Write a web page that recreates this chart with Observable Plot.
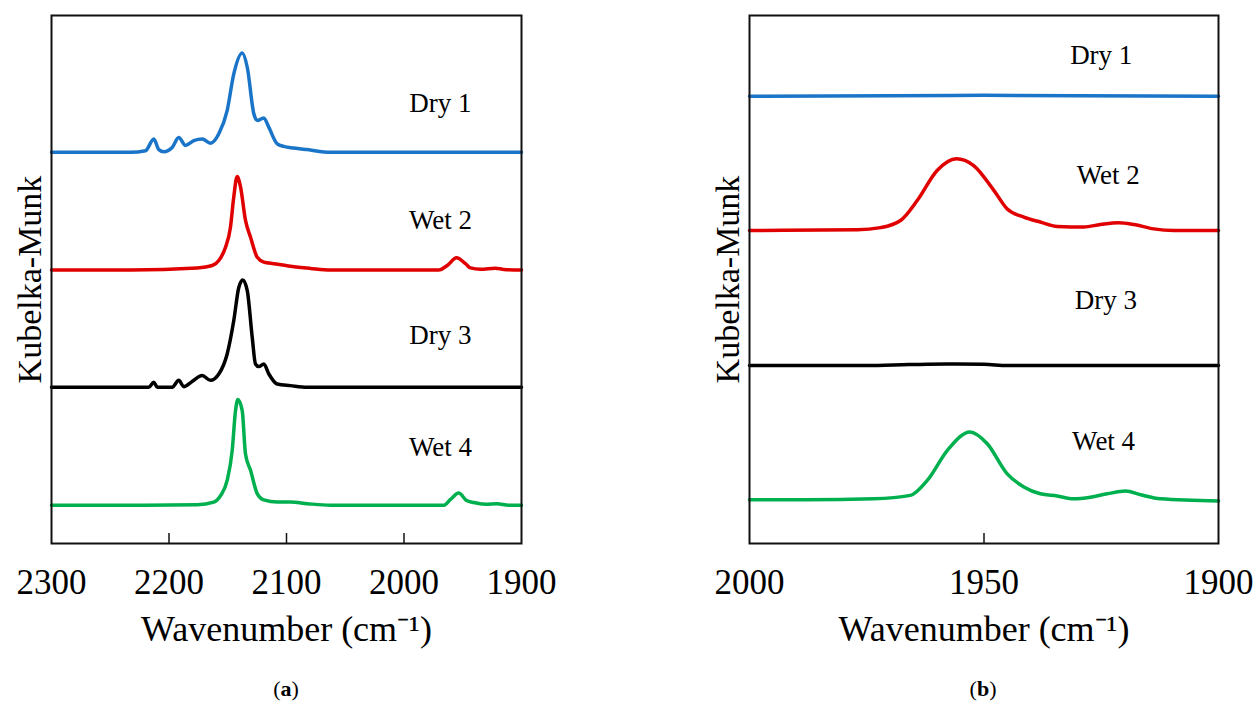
<!DOCTYPE html>
<html><head><meta charset="utf-8">
<script src="https://cdn.jsdelivr.net/npm/d3@7"></script>
<script src="https://cdn.jsdelivr.net/npm/@observablehq/plot@0.6"></script>
<style>
body{margin:0;background:#fff;}
#wrap{position:relative;width:1256px;height:705px;overflow:hidden;font-family:"Liberation Serif",serif;background:#fff;}
.panel{position:absolute;top:0;}
.cap{position:absolute;top:676px;font-size:22px;width:60px;text-align:center;color:#000;}
</style></head><body>
<div id="wrap">
<div id="pa" class="panel" style="left:0"></div>
<div id="pb" class="panel" style="left:698px"></div>
<div class="cap" style="left:256px">(<b>a</b>)</div>
<div class="cap" style="left:953px">(<b>b</b>)</div>
</div>
<script>
// series names and colours
const names = ["Dry 1", "Wet 2", "Dry 3", "Wet 4"];
const colors = ["#1a75c9", "#e00000", "#000000", "#00b04f"];

// Panel (a): wavenumber (cm-1) and Kubelka-Munk intensity above each baseline
const dry1A_w = [2300, 2232.8, 2220, 2212.9, 2208.7, 2204.4, 2197.3, 2191.7, 2186, 2178.9, 2171.7, 2164.7, 2157.6, 2150.5, 2144.9, 2137.7, 2133.4, 2127.8, 2124.9, 2119.3, 2115, 2107.9, 2102.3, 2093.8, 2082.4, 2062.6, 1900];
const dry1A_v = [0, 0, 0.03, 0.25, 0.05, 0.01, 0.09, 0.28, 0.13, 0.22, 0.25, 0.17, 0.35, 0.79, 1.48, 1.88, 1.61, 0.73, 0.60, 0.65, 0.47, 0.16, 0.11, 0.08, 0.05, 0, 0];
const wet2A_w = [2300, 2232.8, 2176, 2163.2, 2157.6, 2151.9, 2147.7, 2144.9, 2142, 2139.1, 2134.9, 2130.6, 2124.9, 2119.3, 2110.8, 2096.6, 2079.6, 2062.6, 1970.4, 1963.2, 1955.3, 1947.7, 1943.4, 1934.9, 1922.1, 1915, 1900];
const wet2A_v = [0, 0, 0.04, 0.085, 0.18, 0.43, 0.81, 1.38, 1.77, 1.57, 0.94, 0.62, 0.24, 0.15, 0.12, 0.07, 0.03, 0, 0, 0.085, 0.23, 0.12, 0.04, 0.015, 0.035, 0.01, 0];
const dry3A_w = [2300, 2217.2, 2212.9, 2210, 2197.3, 2191.7, 2187.4, 2180.3, 2171.7, 2164.7, 2157.6, 2150.5, 2144.9, 2140.6, 2137.2, 2133.4, 2129.2, 2126.4, 2123.6, 2119.3, 2115, 2107.9, 2096.6, 2082.4, 1900];
const dry3A_v = [0, 0, 0.095, 0, 0, 0.13, 0.01, 0.11, 0.22, 0.13, 0.25, 0.63, 1.26, 1.89, 2.03, 1.83, 0.95, 0.44, 0.39, 0.44, 0.25, 0.06, 0.03, 0, 0];
const wet4A_w = [2300, 2232.8, 2176, 2161.9, 2156.2, 2150.5, 2146.2, 2143.4, 2141.4, 2137.7, 2134.9, 2130.6, 2124.9, 2119.3, 2107.9, 2096.6, 2082.4, 2062.6, 1966.1, 1960.4, 1953.4, 1946.8, 1940.6, 1930.6, 1920.7, 1911, 1900];
const wet4A_v = [0, 0, 0.01, 0.06, 0.18, 0.47, 1.04, 1.79, 2.0, 1.79, 0.97, 0.66, 0.22, 0.10, 0.06, 0.06, 0.03, 0, 0, 0.11, 0.23, 0.09, 0.05, 0.02, 0.03, 0, 0];
const offsetsA = [7.41, 5.18, 2.96, 0.725];
const labelA_w = [1969, 1969, 1969, 1969];
const labelA_y = [8.33, 6.12, 3.94, 1.82];
const ticksA = [2300, 2200, 2100, 2000, 1900];
const innerTicksA = [2200, 2100, 2000];

// Panel (b)
const dry1B_w = [2000, 1970, 1950, 1930, 1900];
const dry1B_v = [0, 0.002, 0.003, 0.002, 0];
const wet2B_w = [2000, 1977, 1972.1, 1967.8, 1964.2, 1960, 1955.9, 1952.2, 1947.9, 1945.1, 1941.5, 1938, 1934.4, 1928.7, 1925.2, 1921.3, 1918, 1913.8, 1909.5, 1900];
const wet2B_v = [0, 0.002, 0.009, 0.032, 0.097, 0.193, 0.231, 0.209, 0.129, 0.07, 0.043, 0.027, 0.013, 0.011, 0.019, 0.025, 0.019, 0.005, 0, 0];
const dry3B_w = [2000, 1975, 1966, 1958, 1950, 1945, 1900];
const dry3B_v = [0, 0, 0.003, 0.005, 0.004, 0, 0];
const wet4B_w = [2000, 1987.7, 1973.5, 1965.7, 1962.1, 1957.8, 1953, 1949.3, 1945.1, 1941.5, 1938, 1934.4, 1930.9, 1927.3, 1923.7, 1919.8, 1916.6, 1912.4, 1900];
const wet4B_v = [0, 0, 0.003, 0.014, 0.062, 0.159, 0.218, 0.18, 0.084, 0.041, 0.019, 0.012, 0.003, 0.008, 0.019, 0.028, 0.016, 0.003, -0.004];
const offsetsB = [1.44, 1.008, 0.573, 0.141];
const labelB_w = [1925, 1923.5, 1924, 1924.5];
const labelB_y = [1.571, 1.185, 0.782, 0.328];
const ticksB = [2000, 1950, 1900];
const innerTicksB = [1950];

function panel({series, offsets, xDomain, yDomain, ticks, innerTicks, labelW, labelY, width, marginRight}) {
  const rows = [];
  series.forEach(([ws, vs], i) => ws.forEach((w, j) => rows.push({series: names[i], w, v: vs[j] + offsets[i]})));
  const labels = names.map((n, i) => ({n, w: labelW[i], y: labelY[i]}));
  return Plot.plot({
    width, height: 665, marginLeft: 51, marginRight, marginTop: 15, marginBottom: 122,
    x: {domain: xDomain, axis: null},
    y: {domain: yDomain, axis: null},
    color: {domain: names, range: colors},
    style: {fontFamily: "Liberation Serif", fontSize: "27px", background: "white", color: "black"},
    marks: [
      Plot.line(rows, {x: "w", y: "v", z: "series", stroke: "series", strokeWidth: 3.5, curve: "monotone-x"}),
      Plot.frame({stroke: "#111", strokeWidth: 2}),
      Plot.tickX(innerTicks, {x: d => d, insetTop: 518, stroke: "#111", strokeWidth: 1.5}),
      Plot.axisX(ticks, {tickSize: 0, tickPadding: 26, fontSize: 35, label: null, tickFormat: d => String(d)}),
      Plot.text(labels, {x: "w", y: "y", text: "n", fontSize: 27}),
      Plot.text(["Wavenumber (cm\u207B\u00B9)"], {frameAnchor: "bottom", textAnchor: "middle", dy: 97, fontSize: 36}),
      Plot.text(["Kubelka-Munk"], {frameAnchor: "left", textAnchor: "middle", dx: -21, rotate: -90, fontSize: 34})
    ]
  });
}

document.getElementById("pa").append(panel({
  series: [[dry1A_w, dry1A_v], [wet2A_w, wet2A_v], [dry3A_w, dry3A_v], [wet4A_w, wet4A_v]],
  offsets: offsetsA, xDomain: [2300, 1900], yDomain: [0, 10],
  ticks: ticksA, innerTicks: innerTicksA, labelW: labelA_w, labelY: labelA_y,
  width: 570, marginRight: 49
}));
document.getElementById("pb").append(panel({
  series: [[dry1B_w, dry1B_v], [wet2B_w, wet2B_v], [dry3B_w, dry3B_v], [wet4B_w, wet4B_v]],
  offsets: offsetsB, xDomain: [2000, 1900], yDomain: [0, 1.7],
  ticks: ticksB, innerTicks: innerTicksB, labelW: labelB_w, labelY: labelB_y,
  width: 558, marginRight: 38
}));
</script>
</body></html>
